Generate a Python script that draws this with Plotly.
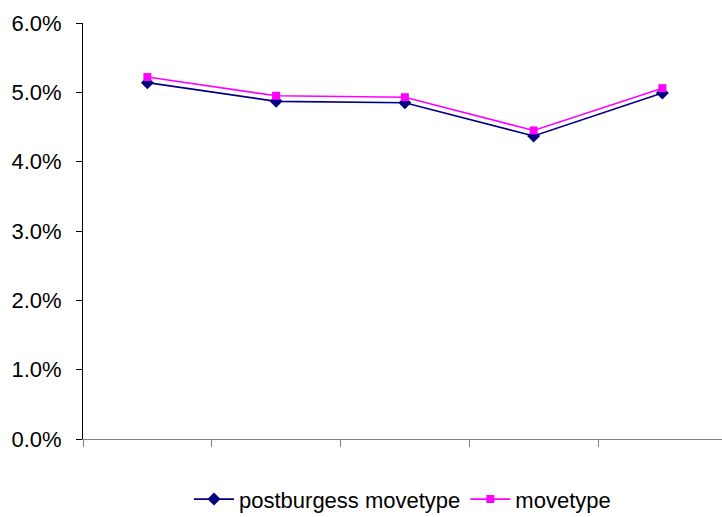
import plotly.graph_objects as go

# Category slots along the x axis (labels are not displayed)
categories = ["1", "2", "3", "4", "5"]

# Series values in percent
postburgess_movetype = [5.14, 4.87, 4.85, 4.37, 4.99]
movetype = [5.22, 4.95, 4.93, 4.45, 5.06]

# y-axis ticks and their labels
y_ticks = [0, 1, 2, 3, 4, 5, 6]
y_tick_labels = [f"{v:.1f}%" for v in y_ticks]

FONT = "Liberation Sans, Arial, Helvetica, sans-serif"

fig = go.Figure()

fig.add_trace(go.Scatter(
    x=categories, y=postburgess_movetype,
    name="postburgess movetype",
    mode="lines+markers",
    line=dict(color="#000080", width=1.6),
    marker=dict(symbol="diamond", size=10, color="#000080"),
))

fig.add_trace(go.Scatter(
    x=categories, y=movetype,
    name="movetype",
    mode="lines+markers",
    line=dict(color="#FF00FF", width=1.6),
    marker=dict(symbol="square", size=8, color="#FF00FF"),
))

fig.update_layout(
    width=722, height=517,
    margin=dict(l=83, r=0, t=23, b=78, autoexpand=False),
    paper_bgcolor="white",
    plot_bgcolor="white",
    font=dict(family=FONT, size=22, color="black"),
    showlegend=True,
    legend=dict(
        orientation="h",
        x=0.5, xanchor="center",
        y=-0.145, yanchor="middle",
        font=dict(family=FONT, size=22, color="black"),
        itemwidth=40,
        tracegroupgap=0,
    ),
)

fig.update_xaxes(
    type="category",
    range=[-0.5, -0.5 + (722 - 83) / 128.75],
    tickson="boundaries",
    ticks="outside",
    ticklen=7,
    tickcolor="#808080",
    showticklabels=False,
    showline=True,
    linecolor="#808080",
    linewidth=1,
    showgrid=False,
    zeroline=False,
)

fig.update_yaxes(
    range=[0, 6],
    tickmode="array",
    tickvals=y_ticks,
    ticktext=y_tick_labels,
    ticks="outside",
    ticklen=6,
    tickcolor="black",
    ticklabelstandoff=10,
    showline=True,
    linecolor="black",
    linewidth=1,
    showgrid=False,
    zeroline=False,
)

fig.write_html("out.html")
